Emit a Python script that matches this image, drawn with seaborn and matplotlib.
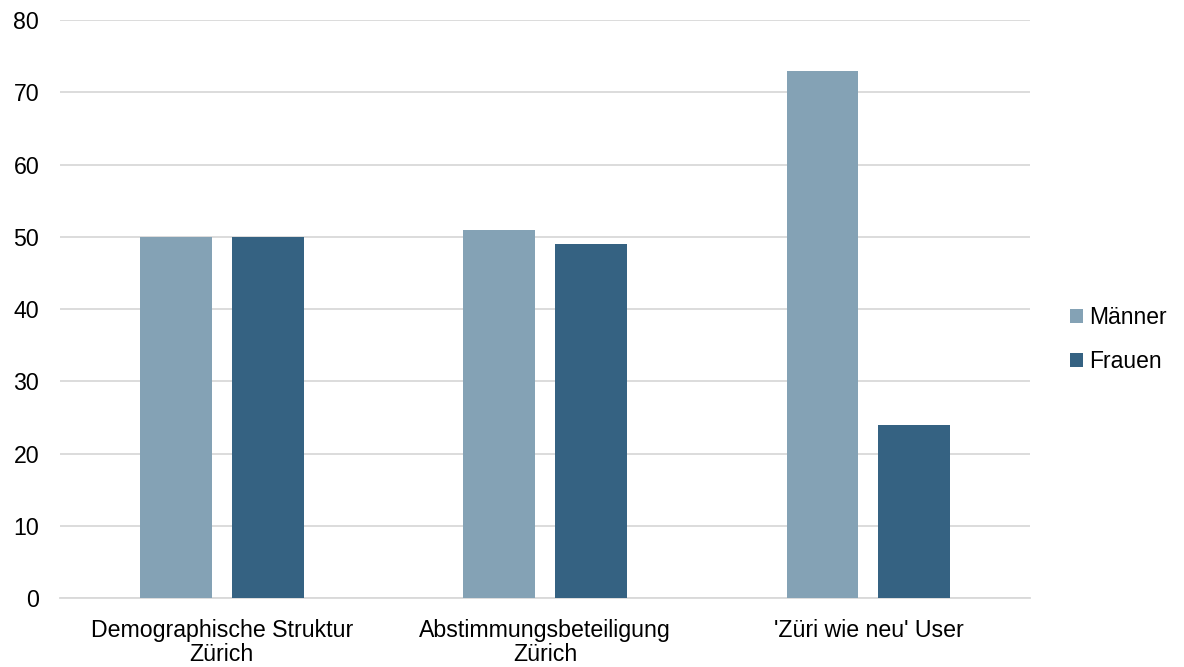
import pandas as pd
import matplotlib.pyplot as plt
import seaborn as sns

kategorien = ['Demographische Struktur\nZürich', 'Abstimmungsbeteiligung\nZürich', "'Züri wie neu' User"]
maenner = [50, 51, 73]
frauen = [50, 49, 24]
gruppen = ['Männer', 'Frauen']
farben = ['#84a2b5', '#356282']

df = pd.DataFrame({
    'kategorie': kategorien * 2,
    'geschlecht': ['Männer'] * 3 + ['Frauen'] * 3,
    'anteil': maenner + frauen,
})

sns.set_style('white')
plt.rcParams['font.family'] = ['Liberation Sans', 'DejaVu Sans']

fig = plt.figure(figsize=(11.84, 6.67), dpi=100)
ax = fig.add_axes([0.0507, 0.1034, 0.8193, 0.8666])

sns.barplot(data=df, x='kategorie', y='anteil', hue='geschlecht', hue_order=gruppen,
            palette=farben, width=0.568, gap=0.218, saturation=1, linewidth=0,
            ax=ax, zorder=3)

ax.set_xlim(-0.5, 2.5)
ax.set_ylim(0, 80)
ax.set_yticks(range(0, 81, 10))
ax.yaxis.grid(True, color='#d9d9d9', linewidth=1.3, zorder=0)
ax.set_axisbelow(True)
for s in ['top', 'right', 'left']:
    ax.spines[s].set_visible(False)
ax.spines['bottom'].set_color('#d9d9d9')
ax.spines['bottom'].set_linewidth(1.3)
ax.tick_params(axis='both', length=0, labelsize=16.7, colors='black')
ax.tick_params(axis='y', pad=15)
ax.tick_params(axis='x', pad=15)
for lbl in ax.get_xticklabels():
    lbl.set_linespacing(1.05)
ax.set_xlabel('')
ax.set_ylabel('')

ax.legend(loc='center left', bbox_to_anchor=(1.02, 0.447), frameon=False, fontsize=16.5,
          handlelength=0.55, handleheight=0.55, handletextpad=0.3, labelspacing=0.9,
          labelcolor='black')

fig.savefig('out.png', dpi=100)
